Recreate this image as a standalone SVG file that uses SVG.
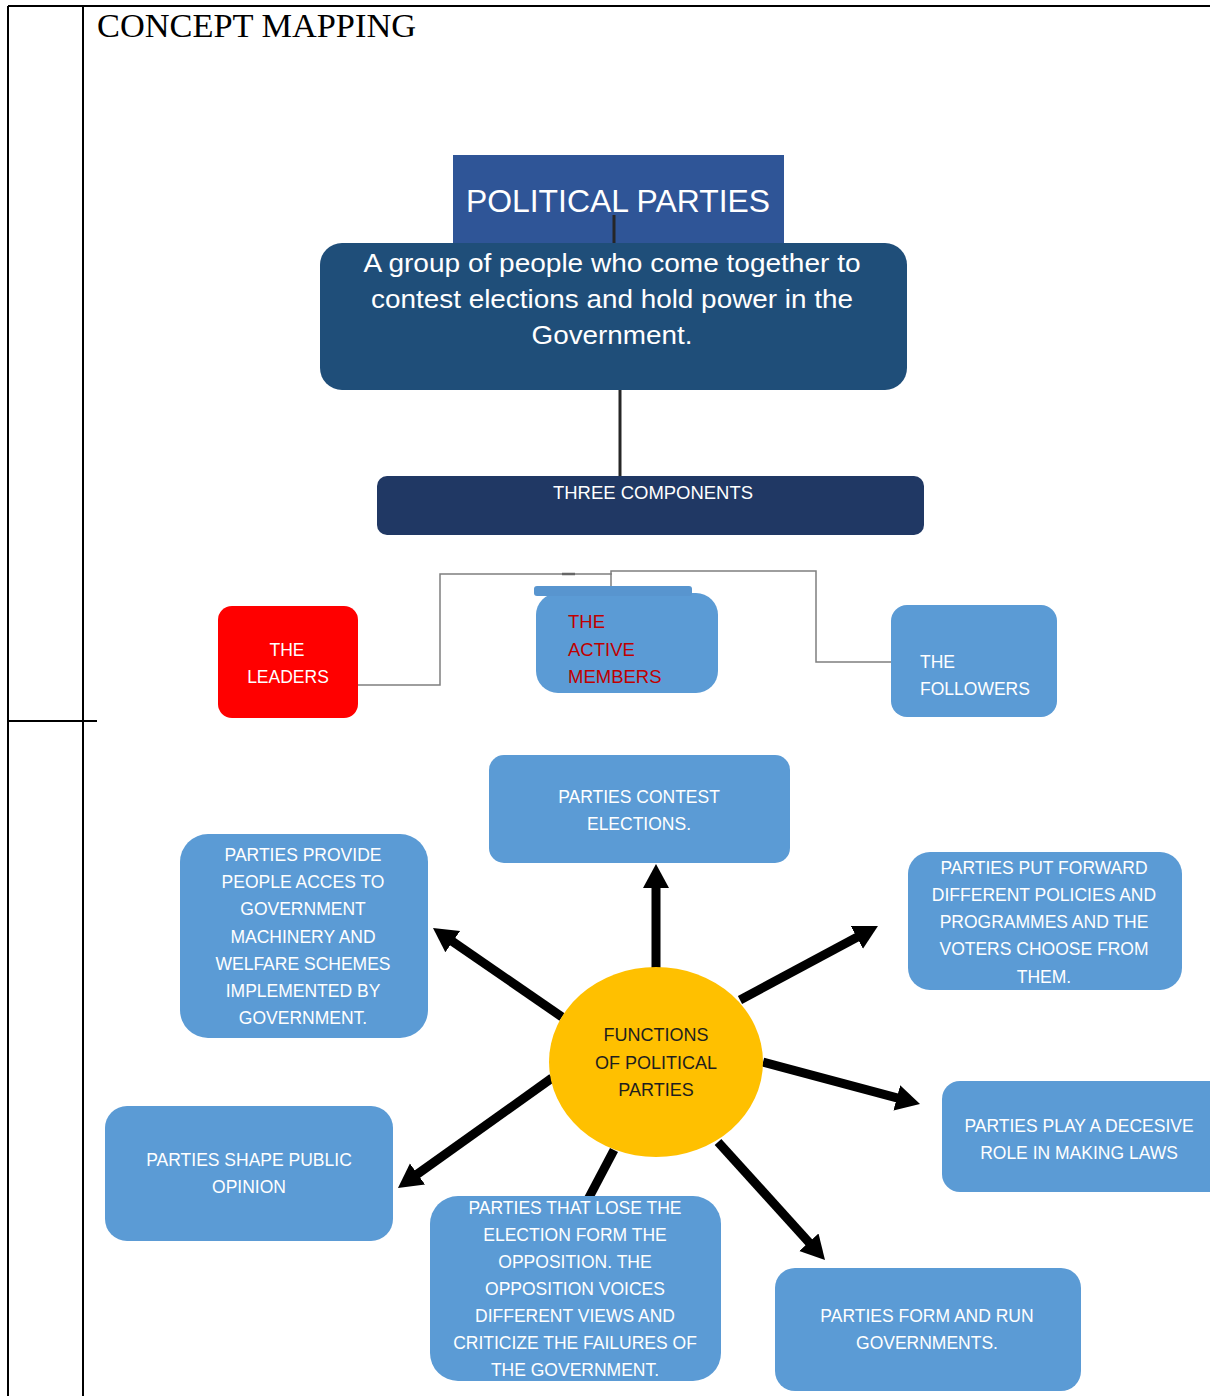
<svg xmlns="http://www.w3.org/2000/svg" width="1210" height="1396" viewBox="0 0 1210 1396">
<style>
.tbl{stroke:#000;stroke-width:2;fill:none}
.blue{fill:#5B9BD5}
.wt{fill:#fff;font-family:"Liberation Sans",Arial,sans-serif;font-size:17.5px;text-anchor:middle}
.wl{fill:#fff;font-family:"Liberation Sans",Arial,sans-serif;font-size:17.5px}
.thin{stroke:#7F7F7F;stroke-width:1.5;fill:none}
.thick{stroke:#000;stroke-width:9;fill:none}
.dark{stroke:#262626;stroke-width:3;fill:none}
</style>
<defs>
<marker id="ah" markerUnits="userSpaceOnUse" markerWidth="30" markerHeight="30" viewBox="0 0 30 30" refX="6" refY="15" orient="auto">
<path d="M0,2 L24,15 L0,28 Z" fill="#000"/>
</marker>
</defs>
<rect width="1210" height="1396" fill="#fff"/>
<g id="table">
<line class="tbl" x1="8" y1="6" x2="1210" y2="6"/>
<line class="tbl" x1="8" y1="6" x2="8" y2="1396"/>
<line class="tbl" x1="83" y1="6" x2="83" y2="1396"/>
<line class="tbl" x1="8" y1="721" x2="97" y2="721"/>
<text x="97" y="37" font-family="'Liberation Serif','Times New Roman',serif" font-size="33" textLength="319" lengthAdjust="spacingAndGlyphs" fill="#000">CONCEPT MAPPING</text>
</g>
<g id="title">
<rect x="453" y="155" width="331" height="92" fill="#2F5597"/>
<text x="618" y="212" fill="#fff" font-family="'Liberation Sans',Arial,sans-serif" font-size="32" text-anchor="middle" textLength="304" lengthAdjust="spacingAndGlyphs">POLITICAL PARTIES</text>
</g>
<g id="connectors">
<line class="dark" x1="614" y1="215" x2="614" y2="244"/>
<line class="dark" x1="620" y1="390" x2="620" y2="477"/>
<polyline class="thin" points="358,685 440,685 440,574 612,574"/>
<line x1="562" y1="574" x2="575" y2="574" stroke="#666" stroke-width="2.5"/>
<polyline class="thin" points="611,588 611,571 816,571 816,662 891,662"/>
<line class="thick" x1="656" y1="968" x2="656" y2="882" marker-end="url(#ah)"/>
<line class="thick" x1="562" y1="1017" x2="447.8" y2="938.2" marker-end="url(#ah)"/>
<line class="thick" x1="740" y1="1000" x2="862.1" y2="934.5" marker-end="url(#ah)"/>
<line class="thick" x1="763" y1="1062" x2="902.6" y2="1099.4" marker-end="url(#ah)"/>
<line class="thick" x1="718" y1="1142" x2="812.9" y2="1246.7" marker-end="url(#ah)"/>
<line class="thick" x1="552" y1="1078" x2="412.6" y2="1177.5" marker-end="url(#ah)"/>
<line class="thick" x1="614" y1="1150" x2="585" y2="1205"/>
</g>
<g id="definition">
<rect x="320" y="243" width="587" height="147" rx="22" fill="#1F4E79"/>
<g fill="#fff" font-family="'Liberation Sans',Arial,sans-serif" font-size="26" text-anchor="middle">
<text x="612" y="272" textLength="497" lengthAdjust="spacingAndGlyphs">A group of people who come together to</text>
<text x="612" y="308" textLength="482" lengthAdjust="spacingAndGlyphs">contest elections and hold power in the</text>
<text x="612" y="344" textLength="161" lengthAdjust="spacingAndGlyphs">Government.</text>
</g>
</g>
<g id="three-components">
<rect x="377" y="476" width="547" height="59" rx="10" fill="#203864"/>
<text x="653" y="499" fill="#fff" font-family="'Liberation Sans',Arial,sans-serif" font-size="18" text-anchor="middle" textLength="200" lengthAdjust="spacingAndGlyphs">THREE COMPONENTS</text>
</g>
<g id="leaders">
<rect x="218" y="606" width="140" height="112" rx="14" fill="#FF0000"/>
<text class="wt" x="287" y="656">THE</text>
<text class="wt" x="288" y="683">LEADERS</text>
</g>
<g id="active-members">
<rect class="blue" x="536" y="593" width="182" height="100" rx="22"/>
<rect x="534" y="586" width="158" height="10" rx="3" fill="#5895CF"/>
<g fill="#C00000" font-family="'Liberation Sans',Arial,sans-serif" font-size="18.5">
<text x="568" y="628">THE</text>
<text x="568" y="656">ACTIVE</text>
<text x="568" y="683">MEMBERS</text>
</g>
</g>
<g id="followers">
<rect class="blue" x="891" y="605" width="166" height="112" rx="16"/>
<text class="wl" x="920" y="668">THE</text>
<text class="wl" x="920" y="695">FOLLOWERS</text>
</g>
<g id="contest">
<rect class="blue" x="489" y="755" width="301" height="108" rx="15"/>
<text class="wt" x="639" y="803">PARTIES CONTEST</text>
<text class="wt" x="639" y="830">ELECTIONS.</text>
</g>
<g id="provide">
<rect class="blue" x="180" y="834" width="248" height="204" rx="28"/>
<text class="wt" x="303" y="861">PARTIES PROVIDE</text>
<text class="wt" x="303" y="888">PEOPLE ACCES TO</text>
<text class="wt" x="303" y="915">GOVERNMENT</text>
<text class="wt" x="303" y="943">MACHINERY AND</text>
<text class="wt" x="303" y="970">WELFARE SCHEMES</text>
<text class="wt" x="303" y="997">IMPLEMENTED BY</text>
<text class="wt" x="303" y="1024">GOVERNMENT.</text>
</g>
<g id="put-forward">
<rect class="blue" x="908" y="852" width="274" height="138" rx="22"/>
<text class="wt" x="1044" y="874">PARTIES PUT FORWARD</text>
<text class="wt" x="1044" y="901">DIFFERENT POLICIES AND</text>
<text class="wt" x="1044" y="928">PROGRAMMES AND THE</text>
<text class="wt" x="1044" y="955">VOTERS CHOOSE FROM</text>
<text class="wt" x="1044" y="983">THEM.</text>
</g>
<g id="functions">
<ellipse cx="656" cy="1062" rx="107" ry="95" fill="#FFC000"/>
<g fill="#1E1E1E" font-family="'Liberation Sans',Arial,sans-serif" font-size="18" text-anchor="middle">
<text x="656" y="1041">FUNCTIONS</text>
<text x="656" y="1069">OF POLITICAL</text>
<text x="656" y="1096">PARTIES</text>
</g>
</g>
<g id="decisive">
<rect class="blue" x="942" y="1081" width="285" height="111" rx="18"/>
<text class="wt" x="1079" y="1132">PARTIES PLAY A DECESIVE</text>
<text class="wt" x="1079" y="1159">ROLE IN MAKING LAWS</text>
</g>
<g id="opinion">
<rect class="blue" x="105" y="1106" width="288" height="135" rx="22"/>
<text class="wt" x="249" y="1166">PARTIES SHAPE PUBLIC</text>
<text class="wt" x="249" y="1193">OPINION</text>
</g>
<g id="opposition">
<rect class="blue" x="430" y="1196" width="291" height="185" rx="28"/>
<text class="wt" x="575" y="1214">PARTIES THAT LOSE THE</text>
<text class="wt" x="575" y="1241">ELECTION FORM THE</text>
<text class="wt" x="575" y="1268">OPPOSITION. THE</text>
<text class="wt" x="575" y="1295">OPPOSITION VOICES</text>
<text class="wt" x="575" y="1322">DIFFERENT VIEWS AND</text>
<text class="wt" x="575" y="1349">CRITICIZE THE FAILURES OF</text>
<text class="wt" x="575" y="1376">THE GOVERNMENT.</text>
</g>
<g id="form-run">
<rect class="blue" x="775" y="1268" width="306" height="123" rx="20"/>
<text class="wt" x="927" y="1322">PARTIES FORM AND RUN</text>
<text class="wt" x="927" y="1349">GOVERNMENTS.</text>
</g>
</svg>
